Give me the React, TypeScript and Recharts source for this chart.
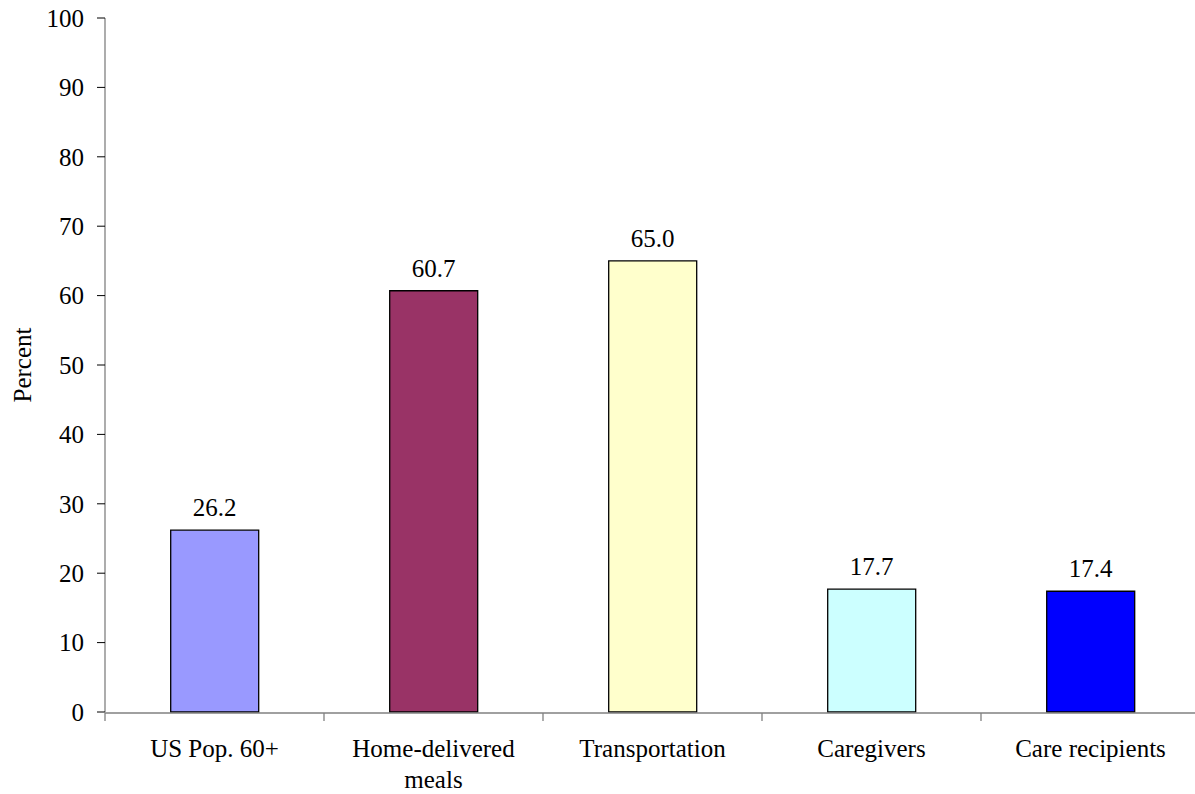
import React from 'react';
import { BarChart, Bar, XAxis, YAxis, Cell, LabelList } from 'recharts';

// Share of each group (percent); "\n" marks a line break in the axis label
const categories = ['US Pop. 60+', 'Home-delivered\nmeals', 'Transportation', 'Caregivers', 'Care recipients'];
const percents = [26.2, 60.7, 65.0, 17.7, 17.4];
const barColors = ['#9999FF', '#993366', '#FFFFCC', '#CCFFFF', '#0000FF'];
const yTicks = [0, 10, 20, 30, 40, 50, 60, 70, 80, 90, 100];
const boundaryTicks = [0, 1, 2, 3, 4, 5];

// slot = centre of each category on a 0..5 numeric scale (used for the boundary tick axis)
const data = categories.map((name, i) => ({ name, slot: i + 0.5, value: percents[i] }));

const FONT = '"Liberation Serif", "Times New Roman", serif';
const FS = 25;
const textStyle = { fontFamily: FONT, fontSize: FS, fill: '#000' };

const CategoryTick = (props: any) => {
  const { x, y, payload } = props;
  const lines = String(payload.value).split('\n');
  return (
    <text x={x} y={y} textAnchor="middle" style={textStyle}>
      {lines.map((line, i) => (
        <tspan key={i} x={x} dy={i === 0 ? '0.71em' : '1.24em'}>
          {line}
        </tspan>
      ))}
    </text>
  );
};

export default function App() {
  return (
    <div style={{ position: 'absolute', left: 0, top: 0, width: 1195, height: 794, overflow: 'hidden', background: '#fff' }}>
      <BarChart
        width={1200}
        height={794}
        data={data}
        margin={{ top: 18, right: 0, bottom: 80, left: 0 }}
        barCategoryGap="30%"
      >
        <XAxis
          xAxisId="grid"
          type="number"
          dataKey="slot"
          domain={[0, 5]}
          ticks={boundaryTicks}
          tickFormatter={() => ''}
          tickSize={8}
          height={1}
          axisLine={{ stroke: '#808080', strokeWidth: 1.3 }}
          tickLine={{ stroke: '#808080', strokeWidth: 1.3 }}
        />
        <XAxis
          xAxisId="cat"
          dataKey="name"
          height={1}
          axisLine={false}
          tickLine={false}
          tickSize={0}
          tickMargin={27}
          interval={0}
          tick={<CategoryTick />}
        />
        <YAxis
          width={105}
          domain={[0, 100]}
          ticks={yTicks}
          interval={0}
          tickSize={8}
          tickMargin={13}
          axisLine={{ stroke: '#808080', strokeWidth: 1.3 }}
          tickLine={{ stroke: '#000', strokeWidth: 1 }}
          tick={textStyle}
          label={{
            value: 'Percent',
            angle: -90,
            position: 'insideLeft',
            offset: 22,
            style: { ...textStyle, textAnchor: 'middle' },
          }}
        />
        <Bar xAxisId="cat" dataKey="value" stroke="#000" strokeWidth={1.3} isAnimationActive={false}>
          {data.map((d, i) => (
            <Cell key={d.name} fill={barColors[i]} />
          ))}
          <LabelList
            dataKey="value"
            position="top"
            offset={14}
            formatter={(v: any) => Number(v).toFixed(1)}
            style={textStyle}
          />
        </Bar>
      </BarChart>
    </div>
  );
}
